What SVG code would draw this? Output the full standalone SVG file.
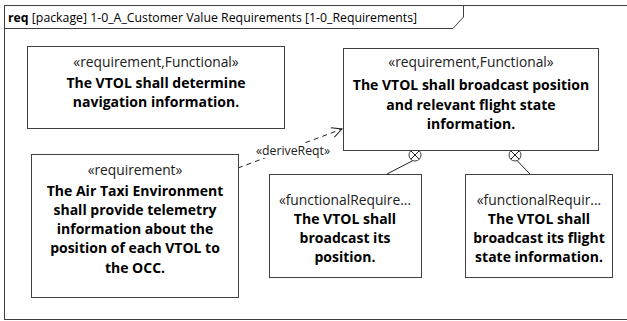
<svg xmlns="http://www.w3.org/2000/svg" width="627" height="321" viewBox="0 0 627 321">
  <defs>
    <style>
      .frame { fill: none; stroke: #404040; stroke-width: 1; }
      .box { fill: #ffffff; stroke: #404040; stroke-width: 1; }
      .st { font-family: "Open Sans", "Noto Sans", sans-serif; font-size: 13.8px; fill: #202020; text-anchor: middle; }
      .nm { font-family: "Open Sans", "Noto Sans", sans-serif; font-size: 14px; font-weight: bold; fill: #000000; text-anchor: middle; }
      .ttl { font-family: "Open Sans", "Noto Sans", sans-serif; font-size: 12.3px; fill: #000000; }
      .lbl { font-family: "Open Sans", "Noto Sans", sans-serif; font-size: 12.3px; fill: #202020; text-anchor: middle; }
      .line { fill: none; stroke: #202020; stroke-width: 1; }
      .dash { fill: none; stroke: #202020; stroke-width: 1; stroke-dasharray: 5 4; }
    </style>
    <marker id="open" markerWidth="12" markerHeight="12" refX="11" refY="6" orient="auto" markerUnits="userSpaceOnUse">
      <path d="M1,1 L11,6 L1,11" fill="none" stroke="#202020" stroke-width="1"/>
    </marker>
  </defs>

  <!-- package frame and name tab -->
  <g id="frame">
    <rect class="frame" x="4.5" y="5.5" width="640" height="314"/>
    <path class="frame" d="M4.5,28.5 H453 L463.5,17 V5.5"/>
    <text class="ttl" x="8" y="21.5"><tspan font-weight="bold">req</tspan> [package] 1-0_A_Customer Value Requirements [1-0_Requirements]</text>
  </g>

  <!-- relationships -->
  <g id="connectors">
    <path class="dash" d="M238,168 L342,129" marker-end="url(#open)"/>
    <rect x="255" y="143" width="76" height="15" fill="#ffffff"/>
    <text class="lbl" x="293" y="155">«deriveReqt»</text>
    <path class="line" d="M413,160.5 L387,174"/>
    <path class="line" d="M517,160.5 L530,174"/>
    <g id="containment1">
      <circle class="box" cx="415" cy="155" r="6"/>
      <path class="line" d="M410.8,150.8 L419.2,159.2 M419.2,150.8 L410.8,159.2"/>
    </g>
    <g id="containment2">
      <circle class="box" cx="515" cy="155" r="6"/>
      <path class="line" d="M510.8,150.8 L519.2,159.2 M519.2,150.8 L510.8,159.2"/>
    </g>
  </g>

  <g id="req-navigation">
    <rect class="box" x="27.5" y="46.5" width="257" height="82"/>
    <text class="st" x="156" y="67">«requirement,Functional»</text>
    <text class="nm" x="156" y="88">The VTOL shall determine</text>
    <text class="nm" x="156" y="106.5">navigation information.</text>
  </g>

  <g id="req-broadcast">
    <rect class="box" x="343.5" y="48.5" width="255" height="102"/>
    <text class="st" x="471" y="67">«requirement,Functional»</text>
    <text class="nm" x="471" y="90">The VTOL shall broadcast position</text>
    <text class="nm" x="471" y="109.5">and relevant flight state</text>
    <text class="nm" x="471" y="129">information.</text>
  </g>

  <g id="req-telemetry">
    <rect class="box" x="31.5" y="154.5" width="207" height="143"/>
    <text class="st" x="135" y="175">«requirement»</text>
    <text class="nm" x="135" y="196">The Air Taxi Environment</text>
    <text class="nm" x="135" y="215">shall provide telemetry</text>
    <text class="nm" x="135" y="234">information about the</text>
    <text class="nm" x="135" y="253">position of each VTOL to</text>
    <text class="nm" x="135" y="273">the OCC.</text>
  </g>

  <g id="req-position">
    <rect class="box" x="269.5" y="174.5" width="152" height="103"/>
    <text class="st" x="345" y="205">«functionalRequire...</text>
    <text class="nm" x="345" y="224">The VTOL shall</text>
    <text class="nm" x="345" y="243">broadcast its</text>
    <text class="nm" x="345" y="262">position.</text>
  </g>

  <g id="req-flight-state">
    <rect class="box" x="465.5" y="174.5" width="147" height="103"/>
    <text class="st" x="539" y="205">«functionalRequir...</text>
    <text class="nm" x="539" y="224">The VTOL shall</text>
    <text class="nm" x="539" y="243">broadcast its flight</text>
    <text class="nm" x="539" y="262">state information.</text>
  </g>
</svg>
